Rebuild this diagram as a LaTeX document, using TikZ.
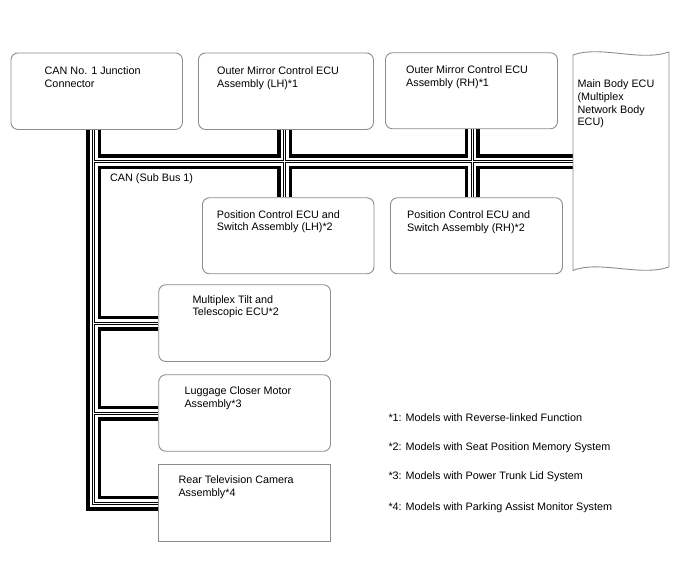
\documentclass[tikz,border=0pt]{standalone}
\usepackage{fontspec}
\setmainfont{Liberation Sans}
\usetikzlibrary{backgrounds}
\definecolor{bordergray}{RGB}{140,140,140}
\begin{document}
\begin{tikzpicture}[x=1pt,y=-1pt,
  box/.style={draw=bordergray, line width=0.9pt, rounded corners=7pt, fill=white, inner sep=0pt, anchor=north west},
  sqbox/.style={box, rounded corners=0pt},
  txt/.style={font=\fontsize{10.8}{12.7}\selectfont, align=left, inner sep=0pt, anchor=north west},
  buslayer/.style={line join=miter, line cap=butt},
]
\useasboundingbox (0,0) rectangle (688,560);

% boxes
\node[box, minimum width=171.5pt, minimum height=76.5pt] (can) at (10.5,52.5) {};
\node[box, minimum width=175pt, minimum height=76.5pt] (oml) at (198,52.5) {};
\node[box, minimum width=172pt, minimum height=76pt] (omr) at (385,52.3) {};
\node[box, minimum width=171.5pt, minimum height=76pt] (pcl) at (202,197.3) {};
\node[box, minimum width=172pt, minimum height=76pt] (pcr) at (390,197.3) {};
\node[box, minimum width=171.7pt, minimum height=76.7pt] (mt) at (158.3,284.3) {};
\node[box, minimum width=171.7pt, minimum height=76.5pt] (lc) at (158.3,374.3) {};
\node[sqbox, minimum width=171.7pt, minimum height=76.7pt] (tv) at (158.3,464.3) {};
\node[inner sep=0pt, minimum width=96pt, minimum height=215pt, anchor=north west] (mb) at (573,55) {};
\draw[draw=bordergray, line width=0.9pt, fill=white]
  (mb.north west) .. controls (600,45) and (640,62) .. (669,52)
  -- (669,267) .. controls (640,277) and (600,260) .. (mb.south west) -- cycle;

% texts
\node[txt] (tcan) at (44.5,66.3) {CAN No. 1 Junction\\Connector};
\node[txt] (toml) at (217,66.3) {Outer Mirror Control ECU\\Assembly (LH)*1};
\node[txt] (tomr) at (406,65.6) {Outer Mirror Control ECU\\Assembly (RH)*1};
\node[txt] (tmb) at (577.3,79.6) {Main Body ECU\\(Multiplex\\Network Body\\ECU)};
\node[txt] (tpcl) at (216.7,210) {Position Control ECU and\\Switch Assembly (LH)*2};
\node[txt] (tpcr) at (407,210.3) {Position Control ECU and\\Switch Assembly (RH)*2};
\node[txt] (tmt) at (192.3,295) {Multiplex Tilt and\\Telescopic ECU*2};
\node[txt] (tlc) at (184.3,386.3) {Luggage Closer Motor\\Assembly*3};
\node[txt] (ttv) at (178.3,475.6) {Rear Television Camera\\Assembly*4};
\node[txt] (tbus) at (110,173) {CAN (Sub Bus 1)};
\node[txt] (n1) at (388.3,413) {*1: Models with Reverse-linked Function};
\node[txt] (n2) at (388.3,442.3) {*2: Models with Seat Position Memory System};
\node[txt] (n3) at (388.3,471.6) {*3: Models with Power Trunk Lid System};
\node[txt] (n4) at (388.3,502.3) {*4: Models with Parking Assist Monitor System};

% bus coordinates
\coordinate (busx) at (93.5,0);
\coordinate (hb) at (0,161.5);
\coordinate (lhx) at (284.5,0);
\coordinate (rhx) at (472,0);

\begin{scope}[on background layer]
\foreach \w/\c in {15/black, 8/white, 3/black, 1/white}{
  \draw[buslayer, line width=\w pt, draw=\c] (busx |- can.south) -- (busx |- tv.west) -- (tv.west);
  \draw[buslayer, line width=\w pt, draw=\c] (busx |- hb) -- (mb.west |- hb);
  \draw[buslayer, line width=\w pt, draw=\c] (lhx |- oml.south) -- (lhx |- pcl.north);
  \draw[buslayer, line width=\w pt, draw=\c] (rhx |- omr.south) -- (rhx |- pcr.north);
  \draw[buslayer, line width=\w pt, draw=\c] (busx |- mt.west) -- (mt.west);
  \draw[buslayer, line width=\w pt, draw=\c] (busx |- lc.west) -- (lc.west);
}
\end{scope}
\end{tikzpicture}
\end{document}
